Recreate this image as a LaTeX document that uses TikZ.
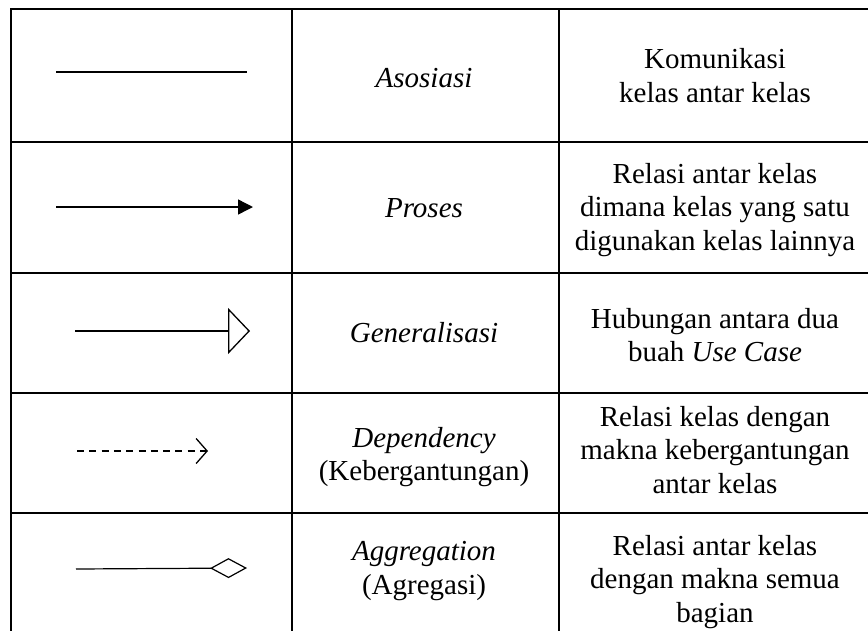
\documentclass[tikz,border=0pt]{standalone}
\usepackage{fontspec}
\setmainfont{Liberation Serif}
\usetikzlibrary{arrows.meta}

\tikzset{
  grid/.style={line width=1.6pt, black, line cap=rect, line join=miter},
  cell/.style={align=center, inner sep=0pt, font=\fontsize{29pt}{33.4pt}\selectfont},
  rel/.style={line width=1.4pt, black},
}

\begin{document}
\begin{tikzpicture}[x=1pt, y=-1pt]
\useasboundingbox (0,0) rectangle (868,630);

% table rules
\draw[grid] (868,9) -- (11,9) -- (11,630);
\draw[grid] (292,9) -- (292,630);
\draw[grid] (559,9) -- (559,630);
\foreach \yy in {142,273,393,513}
  \draw[grid] (11,\yy) -- (868,\yy);

% row 1: association
\coordinate (a1) at (56,72);
\coordinate (a2) at (247,72);
\draw[rel, line width=1.3pt] (a1) -- (a2);
\node[cell] (n1) at (424,78) {\itshape Asosiasi};
\node[cell] (d1) at (715,75.5) {Komunikasi\\kelas antar kelas};

% row 2: process
\coordinate (p1) at (56,207);
\coordinate (p2) at (253,207);
\draw[rel, -{Triangle[length=15pt,width=15pt]}] (p1) -- (p2);
\node[cell] (n2) at (424,208) {\itshape Proses};
\node[cell] (d2) at (715,210) {Relasi antar kelas\\dimana kelas yang satu\\digunakan kelas lainnya};

% row 3: generalisation
\coordinate (g1) at (75,331);
\coordinate (g2) at (250,331);
\draw[rel, line width=1.3pt, -{Triangle[open,length=22pt,width=46pt]}] (g1) -- (g2);
\node[cell] (n3) at (424,333) {\itshape Generalisasi};
\node[cell] (d3) at (715,335) {Hubungan antara dua\\buah \textit{Use Case}};

% row 4: dependency
\coordinate (e1) at (77,451);
\coordinate (e2) at (208,451);
\draw[rel, line width=1.3pt, dash pattern=on 7pt off 5.3pt,
      -{Straight Barb[length=11pt,width=25pt,line width=1.3pt]}] (e1) -- (e2);
\node[cell] (n4) at (424,457) {\textit{Dependency}\\(Kebergantungan)};
\node[cell] (d4) at (715,450) {Relasi kelas dengan\\makna kebergantungan\\antar kelas};

% row 5: aggregation
\coordinate (r1) at (76,569);
\coordinate (r2) at (247,568);
\draw[rel, line width=1.2pt, -{Diamond[open,length=37pt,width=20pt]}] (r1) -- (r2);
\node[cell] (n5) at (424,571) {\textit{Aggregation}\\(Agregasi)};
\node[cell] (d5) at (715,582) {Relasi antar kelas\\dengan makna semua\\bagian};
\end{tikzpicture}
\end{document}
